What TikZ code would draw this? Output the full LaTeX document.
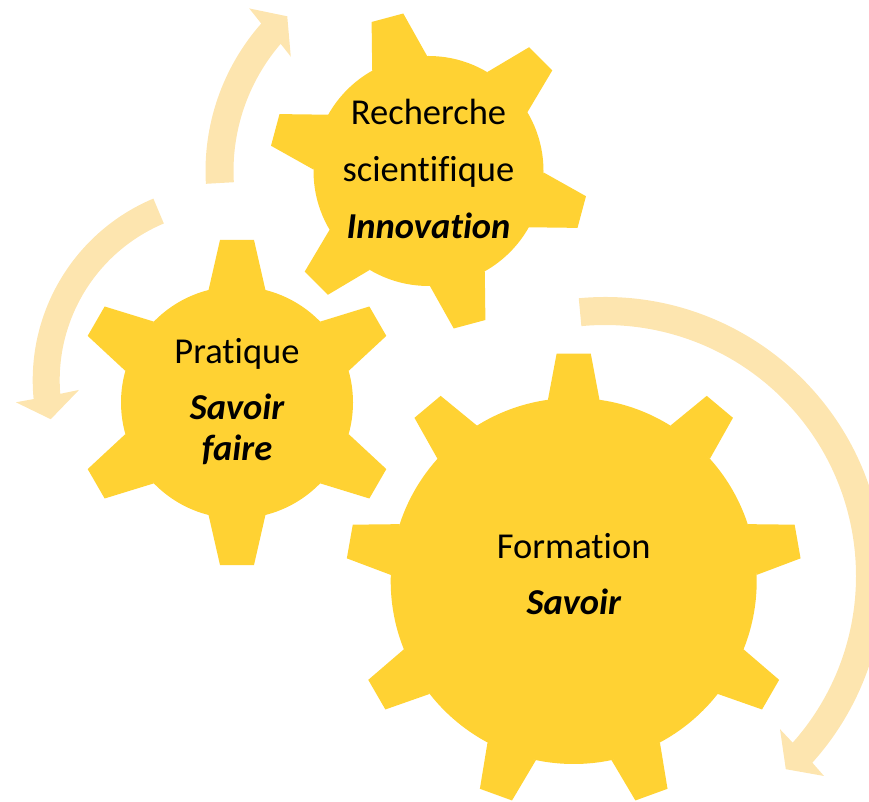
\documentclass[tikz,border=0pt]{standalone}
\usepackage{fontspec}
\setmainfont{Carlito}[Ligatures={NoCommon}]
\definecolor{gearc}{HTML}{FFD233}
\definecolor{arrowc}{HTML}{FDE5AF}
\tikzset{
  gearfill/.style={fill=gearc, draw=none},
  arrowfill/.style={fill=arrowc, draw=none},
  label/.style={inner sep=0pt, anchor=base, font=\fontsize{36.5}{43}\selectfont, text=black},
  emph/.style={label, font=\fontsize{36.5}{43}\selectfont\bfseries\itshape}
}
\begin{document}
\begin{tikzpicture}[x=1pt,y=1pt]
\useasboundingbox (0,0) rectangle (869,802);
\clip (0,0) rectangle (869,802);

% ---- curved arrows ----
% arrow around Recherche (up)
\begin{scope}[shift={(428.5,631)}]
  \fill[arrowfill] (183.3:223) arc[start angle=183.3, end angle=138.6, radius=223]
    -- (137.8:242) -- (132.4:209.5) -- (140.3:179) -- (139.3:195)
    arc[start angle=139.3, end angle=183.3, radius=195] -- cycle;
\end{scope}
% arrow around Pratique (down)
\begin{scope}[shift={(229.7,421.8)}]
  \fill[arrowfill] (112.8:197) arc[start angle=112.8, end angle=185.5, radius=197]
    -- (185.9:215) -- (192.3:183.2) -- (183.7:151) -- (184.6:170)
    arc[start angle=184.6, end angle=112.8, radius=170] -- cycle;
\end{scope}
% arrow around Formation (down right)
\begin{scope}[shift={(605,226)}]
  \fill[arrowfill] (95.4:279) arc[start angle=95.4, end angle=-42.0, radius=279]
    -- (-42.4:296.6) -- (-46.9:264.6) -- (-41.2:232.6) -- (-41.6:251)
    arc[start angle=-41.6, end angle=95.4, radius=251] -- cycle;
\end{scope}

% ---- gears ----
% Recherche gear
\begin{scope}[shift={(428.5,631)}]
  \fill[gearfill] (0,0) circle[radius=115];
  \foreach \t in {105,165,225,285,345,405}
    \fill[gearfill] ({\t-14.3}:115) -- ({\t-5.9}:159.5) -- ({\t+5.9}:159.5) -- ({\t+14.3}:115) -- cycle;
\end{scope}
% Pratique gear
\begin{scope}[shift={(237,399.5)}]
  \fill[gearfill] (0,0) circle[radius=116];
  \foreach \t in {90,150,210,270,330,390}
    \fill[gearfill] ({\t-14.2}:116) -- ({\t-5.96}:163.5) -- ({\t+5.96}:163.5) -- ({\t+14.2}:116) -- cycle;
\end{scope}
% Formation gear
\begin{scope}[shift={(573.7,221)}]
  \fill[gearfill] (0,0) circle[radius=183];
  \foreach \t in {90,130,170,210,250,290,330,370,410}
    \fill[gearfill] ({\t-8.1}:183) -- ({\t-4.3}:228) -- ({\t+4.3}:228) -- ({\t+8.1}:183) -- cycle;
\end{scope}

% ---- texts ----
\node[label] (rech1) at (428.5,677) {Recherche};
\node[label] (rech2) at (428.5,620.3) {scientifique};
\node[emph]  (rech3) at (428.5,563.7) {Innovation};
\node[label] (prat1) at (237,438) {Pratique};
\node[emph]  (prat2) at (237,382) {Savoir};
\node[emph]  (prat3) at (237,341.3) {faire};
\node[label] (form1) at (573.7,243) {Formation};
\node[emph]  (form2) at (573.7,187) {Savoir};
\end{tikzpicture}
\end{document}
